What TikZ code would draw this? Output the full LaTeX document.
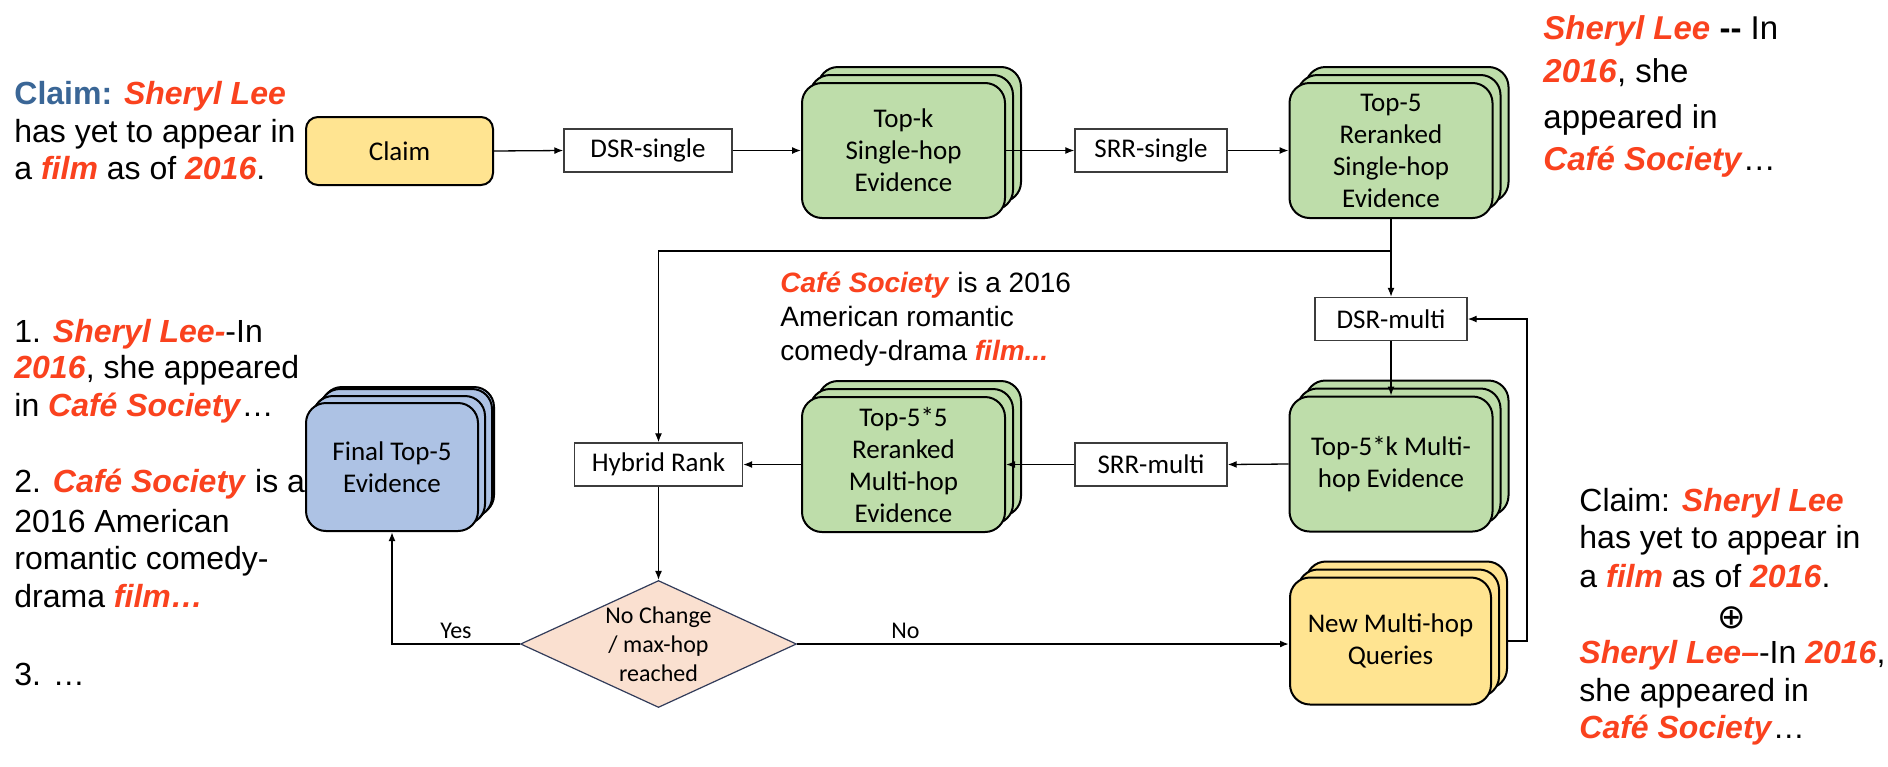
\documentclass[tikz,border=0pt]{standalone}
\usepackage{fontspec}
\setmainfont{Liberation Sans}
\newfontfamily\boxfont{Carlito}
\newfontfamily\symfont{DejaVu Sans}
\usetikzlibrary{arrows.meta,shapes.geometric,shadows}
\definecolor{hlred}{RGB}{250,66,30}
\definecolor{claimblue}{RGB}{58,102,150}
\definecolor{evgreen}{RGB}{190,221,170}
\definecolor{qyellow}{RGB}{255,228,145}
\definecolor{finblue}{RGB}{173,194,228}
\definecolor{peach}{RGB}{250,224,208}
\definecolor{diamborder}{RGB}{50,60,90}
\definecolor{boxgray}{RGB}{60,60,60}
\newcommand{\hl}[1]{\textcolor{hlred}{\textbf{\textit{#1}}}}
\begin{document}
\begin{tikzpicture}[x=0.5pt,y=-0.5pt,
  stackbox/.style={draw=black, line width=1pt, rounded corners=10pt, align=center,
    font=\boxfont\fontsize{13.5}{16}\selectfont, minimum width=101.5pt, minimum height=67.5pt,
    inner sep=2pt, double copy shadow={shadow xshift=4pt, shadow yshift=4pt}},
  greenbox/.style={stackbox, fill=evgreen},
  yellowbox/.style={stackbox, fill=qyellow},
  bluebox/.style={stackbox, fill=finblue, minimum width=86pt, minimum height=64pt,
    double copy shadow={shadow xshift=3.5pt, shadow yshift=3.5pt}},
  claimbox/.style={draw=black, line width=1pt, rounded corners=6pt, fill=qyellow,
    font=\boxfont\fontsize{13.5}{16}\selectfont, minimum width=93.5pt, minimum height=34pt},
  procbox/.style={draw=boxgray, line width=0.7pt, fill=white,
    font=\boxfont\fontsize{13.5}{16}\selectfont, minimum height=21.5pt, inner sep=2pt},
  decision/.style={shape=diamond, shape aspect=2.17, draw=diamborder, line width=0.6pt,
    fill=peach, inner sep=0pt, align=center, minimum width=138pt, minimum height=63.5pt,
    font=\boxfont\fontsize{12}{14.5}\selectfont},
  arr/.style={-{Latex[length=4.5pt,width=3.5pt]}, line width=0.65pt},
  lbl/.style={font=\boxfont\fontsize{12}{14}\selectfont, inner sep=2pt},
  txt/.style={anchor=base west, inner sep=0pt},
]
\fill[white] (0,0) rectangle (1888,766);
\useasboundingbox (0,0) rectangle (1888,766);

% nodes
\node[claimbox] (claim) at (399.5,151) {Claim};
\node[procbox, minimum width=84pt] (dsrs) at (648,150.5) {DSR-single};
\node[greenbox] (tk) at (903.5,150.5) {Top-k\\Single-hop\\Evidence};
\node[procbox, minimum width=76pt] (srrs) at (1151,150.5) {SRR-single};
\node[greenbox] (t5) at (1391,150.5) {Top-5\\Reranked\\Single-hop\\Evidence};
\node[procbox, minimum width=76pt] (dsrm) at (1391,319) {DSR-multi};
\node[greenbox] (t5k) at (1391,464) {Top-5*k Multi-\\hop Evidence};
\node[procbox, minimum width=76pt] (srrm) at (1151,464.5) {SRR-multi};
\node[greenbox] (t55) at (903.5,464.5) {Top-5*5\\Reranked\\Multi-hop\\Evidence};
\node[procbox, minimum width=84pt] (hyb) at (658.5,464.5) {Hybrid Rank};
\node[decision] (dia) at (658.5,644) {No Change\\/ max-hop\\reached};
\node[yellowbox, minimum width=100.5pt, minimum height=63.5pt] (nmh) at (1390.5,641) {New Multi-hop\\Queries};
\node[bluebox] (fin) at (392,467) {Final Top-5\\Evidence};

% connectors
\draw[arr] (claim.east) -- (dsrs.west);
\draw[arr] (dsrs.east) -- (tk.west);
\draw[arr] (tk.east) -- (srrs.west);
\draw[arr] (srrs.east) -- (t5.west);
\draw[arr] (t5.south) -- (dsrm.north);
\coordinate (br) at (1391,251);
\draw[arr] (br) -| (hyb.north);
\draw[arr] (dsrm.south) -- (t5k.north);
\draw[arr] (t5k.west) -- (srrm.east);
\draw[arr] (srrm.west) -- (t55.east);
\draw[arr] (t55.west) -- (hyb.east);
\draw[arr] (hyb.south) -- (dia.north);
\draw[arr, line width=1pt] (dia.east) -- node[lbl, pos=0.22, above] (nolbl) {No} (dia.east -| nmh.west);
\draw[arr, line width=0.9pt] (dia.west) -| node[lbl, pos=0.25, above] (yeslbl) {Yes} (fin.south);
\coordinate (fbc) at (1527,641);
\draw[arr] ([xshift=8pt]nmh.east) -- (fbc) |- (dsrm.east);

% top-left text
\begin{scope}[every node/.style={txt, font=\fontsize{16}{19}\selectfont}]
\node (tl1) at (14,104) {\textcolor{claimblue}{\textbf{Claim:}} \hl{Sheryl Lee}};
\node (tl2) at (14,142) {has yet to appear in};
\node (tl3) at (14,179) {a \hl{film} as of \hl{2016}.};
% left-middle text
\node (lm1) at (14,342) {1. \hl{Sheryl Lee-}-In};
\node (lm2) at (14,378) {\hl{2016}, she appeared};
\node (lm3) at (14,416) {in \hl{Café Society}…};
\node (lm4) at (14,492) {2. \hl{Café Society} is a};
\node (lm5) at (14,532) {2016 American};
\node (lm6) at (14,569) {romantic comedy-};
\node (lm7) at (14,607) {drama \hl{film…}};
\node (lm8) at (14,685) {3. …};
% bottom-right text
\node (br1) at (1579,511) {Claim: \hl{Sheryl Lee}};
\node (br2) at (1579,548) {has yet to appear in};
\node (br3) at (1579,587) {a \hl{film} as of \hl{2016}.};
\node (br5) at (1579,663) {\hl{Sheryl Lee–}-In \hl{2016},};
\node (br6) at (1579,701) {she appeared in};
\node (br7) at (1579,738) {\hl{Café Society}…};
\end{scope}
\node[inner sep=0pt, font=\symfont\fontsize{17}{19}\selectfont] (oplus) at (1732,618) {⊕};

% top-right text
\begin{scope}[every node/.style={txt, font=\fontsize{16.5}{21}\selectfont}]
\node (tr1) at (1543,39) {\hl{Sheryl Lee} \textbf{-{}-} In};
\node (tr2) at (1543,82) {\hl{2016}, she};
\node (tr3) at (1543,128) {appeared in};
\node (tr4) at (1543,170) {\hl{Café Society}…};
\end{scope}

% middle text
\begin{scope}[every node/.style={txt, font=\fontsize{14}{17}\selectfont}]
\node (mc1) at (780,292) {\hl{Café Society} is a 2016};
\node (mc2) at (780,326) {American romantic};
\node (mc3) at (780,360) {comedy-drama \hl{film...}};
\end{scope}
\end{tikzpicture}
\end{document}
